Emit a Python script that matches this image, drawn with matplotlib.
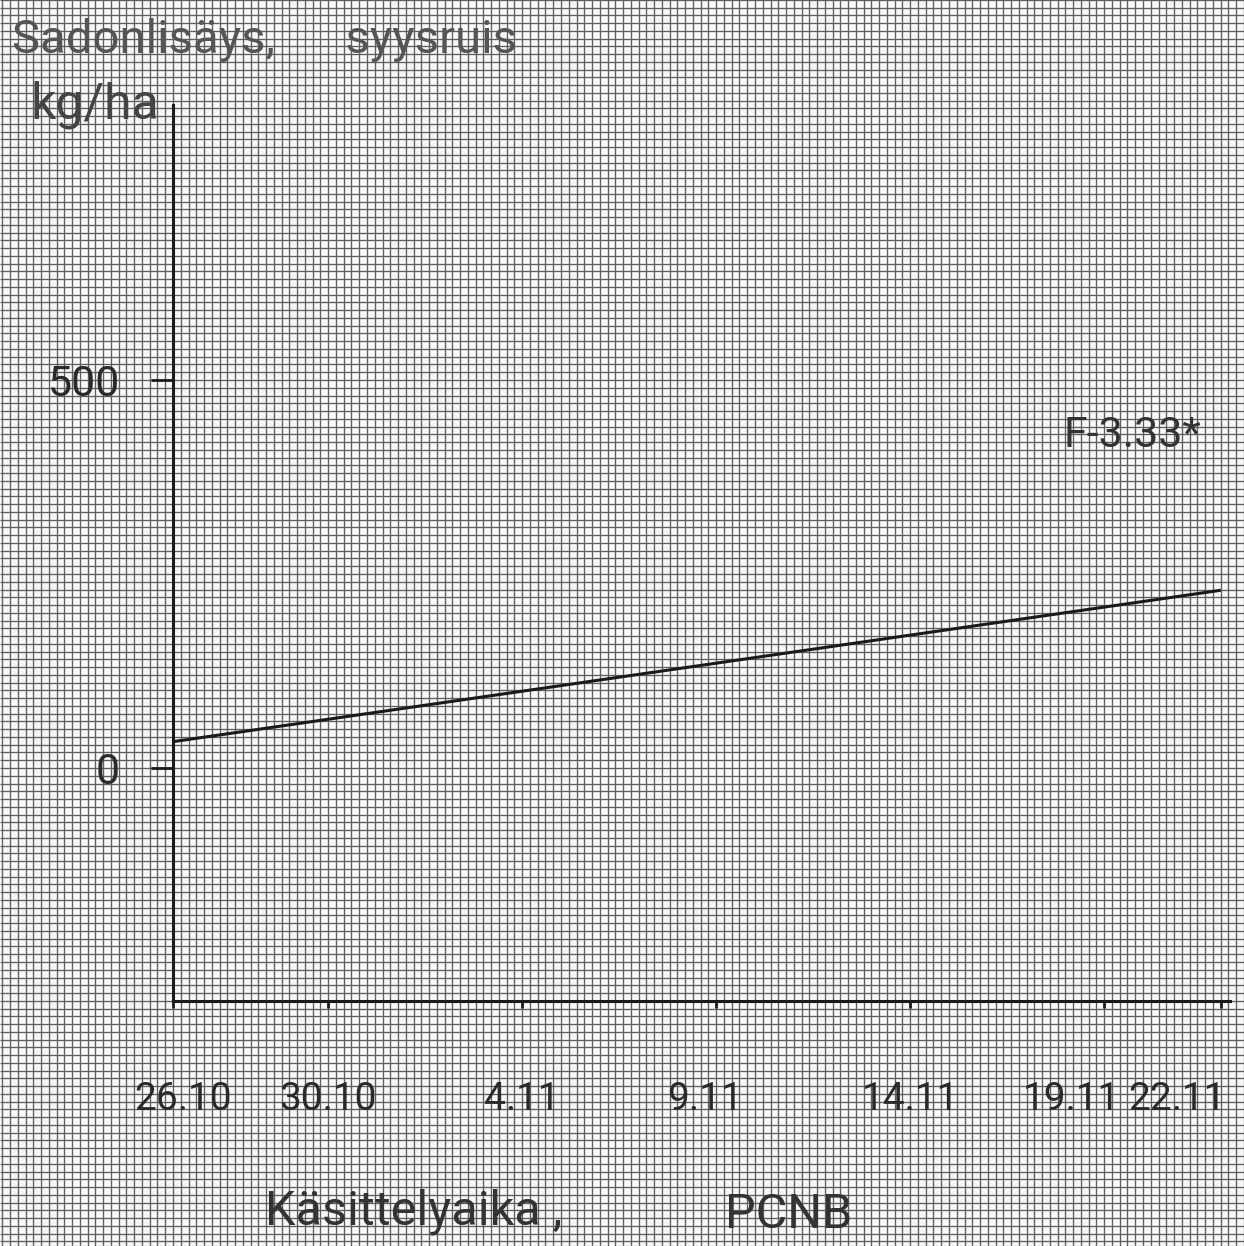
import numpy as np
import matplotlib
matplotlib.use("Agg")
import matplotlib.pyplot as plt
from matplotlib.collections import LineCollection

# kasittelypaiva (paivia 26.10 jalkeen) ja sadonlisays kg/ha
paivat = [0, 27]
sadonlisays = [34, 229]

tick_paivat = [0, 4, 9, 14, 19, 24, 27]
tick_nimet = ['26.10', '30.10', '4.11', '9.11', '14.11', '19.11', '22.11']
y_tikit = [0, 500]
y_nimet = ['0', '500']

W, H = 1244, 1246
plt.rcParams['font.family'] = ['Roboto', 'DejaVu Sans']

fig = plt.figure(figsize=(W / 100, H / 100), dpi=100)
fig.patch.set_facecolor('#f8f8f8')

# millimetripaperi taustalle
bg = fig.add_axes([0, 0, 1, 1], zorder=0)
bg.set_xlim(0, W)
bg.set_ylim(H, 0)
bg.axis('off')
step = 7.76
xs = np.concatenate([np.arange(173, -1, -step), np.arange(173 + step, W + 1, step)])
ys = np.concatenate([np.arange(768, -1, -step), np.arange(768 + step, H + 1, step)])
segs = [[(x, 0), (x, H)] for x in xs] + [[(0, y), (W, y)] for y in ys]
bg.add_collection(LineCollection(segs, colors='#5e5e5e', linewidths=0.95))

left, right, top, bottom = 173, 1230, 105, 1001
ax = fig.add_axes([left / W, 1 - bottom / H, (right - left) / W, (bottom - top) / H], zorder=1)
ax.patch.set_alpha(0)
ax.set_xlim(0, 27.24)
ax.set_ylim(-300, 854)

for s in ['top', 'right']:
    ax.spines[s].set_visible(False)
for s in ['left', 'bottom']:
    ax.spines[s].set_linewidth(2.2)
    ax.spines[s].set_color('#1a1a1a')

ax.plot(paivat, sadonlisays, color='#1a1a1a', lw=2.2, solid_capstyle='butt')

ax.set_xticks(tick_paivat)
ax.set_xticklabels([])
ax.set_yticks(y_tikit)
ax.set_yticklabels(y_nimet)
ax.tick_params(axis='x', direction='out', length=5, width=2, color='#1a1a1a')
ax.tick_params(axis='y', direction='out', length=16, width=2, pad=22,
               labelsize=31, labelcolor='#2a2a2a', color='#1a1a1a')

# paivamaarat kirjoitetaan kasin, kaksi viimeista oikealle tasattuna
xtrans = ax.get_xaxis_transform()
siirto = [0.25, 0, 0, -0.3, 0, 0.42, 0.14]
tasaus = ['center'] * 5 + ['right', 'right']
for d, nimi, dx, ha in zip(tick_paivat, tick_nimet, siirto, tasaus):
    ax.text(d + dx, -0.11, nimi, transform=xtrans, fontsize=28, color='#2a2a2a',
            ha=ha, va='center')

ax.text(26.5, 428, 'F-3.33*', fontsize=31, color='#333333', ha='right', va='center')

fig.text(12 / W, 1 - 40 / H, 'Sadonlisäys,      syysruis', fontsize=34, color='#555555',
         ha='left', va='center')
fig.text(30 / W, 1 - 105 / H, 'kg/ha', fontsize=36, color='#444444', ha='left', va='center')
fig.text(265 / W, 1 - 1212 / H, 'Käsittelyaika ,', fontsize=35, color='#333333',
         ha='left', va='center')
fig.text(725 / W, 1 - 1215 / H, 'PCNB', fontsize=35, color='#333333', ha='left', va='center')

fig.savefig('out.png', dpi=100, facecolor=fig.get_facecolor())
